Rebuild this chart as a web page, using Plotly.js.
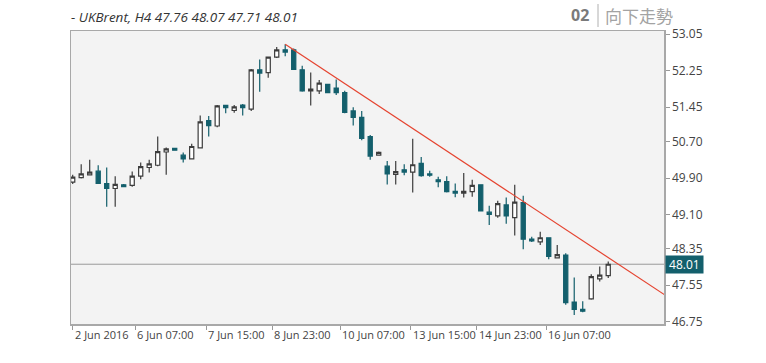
<!DOCTYPE html>
<html><head><meta charset="utf-8">
<script src="https://cdn.plot.ly/plotly-3.0.1.min.js"></script>
<style>html,body{margin:0;padding:0;background:#fff;}#chart{width:766px;height:363px;}</style>
</head><body><div id="chart"></div>
<script>
// UKBrent H4 candles
const opens  = [49.81,49.91,49.97,50.05,49.78,49.67,49.75,49.74,49.94,50.13,50.18,50.47,50.55,50.40,50.32,50.56,
                51.16,51.04,51.49,51.38,51.50,51.41,52.27,52.21,52.55,52.71,52.71,52.27,51.81,51.81,51.95,51.87,
                51.77,51.37,51.23,50.81,50.40,50.16,49.98,50.08,50.03,50.22,49.99,49.86,49.82,49.61,49.57,49.60,
                49.75,49.15,49.07,49.31,49.03,49.36,48.56,48.50,48.59,48.15,48.21,47.18,47.02,47.25,47.69,47.76];
const highs  = [49.97,50.20,50.30,50.18,50.13,49.94,49.77,50.04,50.24,50.30,50.81,50.57,50.55,50.46,50.65,51.27,
                51.26,51.50,51.50,51.50,51.52,52.29,52.50,52.56,52.77,52.83,52.74,52.36,52.21,52.05,51.95,52.06,
                51.81,51.45,51.37,50.84,50.48,50.27,50.27,50.20,50.76,50.36,50.06,49.93,49.94,49.78,50.01,49.86,
                49.75,49.29,49.40,49.47,49.75,49.51,48.61,48.72,48.60,48.43,48.25,47.72,47.20,47.79,47.96,48.07];
const lows   = [49.77,49.89,49.97,49.78,49.27,49.27,49.70,49.71,49.87,50.02,50.16,49.97,50.51,50.24,50.31,50.55,
                50.81,51.01,51.32,51.33,51.27,51.37,51.79,52.10,52.53,52.57,52.27,51.79,51.49,51.74,51.77,51.72,
                51.32,51.05,50.73,50.30,50.39,49.76,49.76,49.96,49.58,49.93,49.93,49.70,49.58,49.48,49.47,49.49,
                49.18,48.87,49.03,48.90,48.64,48.34,48.50,48.43,48.12,48.14,47.12,46.90,46.96,47.23,47.63,47.71];
const closes = [49.92,49.99,50.03,49.78,49.67,49.76,49.71,49.94,50.15,50.21,50.48,50.54,50.51,50.32,50.59,51.13,
                51.05,51.48,51.44,51.46,51.44,52.27,52.20,52.55,52.71,52.66,52.28,51.81,51.85,51.98,51.77,51.77,
                51.34,51.23,50.77,50.38,50.46,49.99,50.04,50.03,50.19,49.95,49.96,49.82,49.60,49.57,49.61,49.74,
                49.18,49.10,49.34,49.07,49.37,48.56,48.52,48.59,48.18,48.22,47.17,47.02,46.98,47.74,47.77,48.01];

// trend line through the 8 Jun high (bar index, price)
const trendX = [25, 75];
const trendY = [52.83, 46.68];

const lastPrice = 48.01;
const titleText = '- UKBrent, H4 47.76 48.07 47.71 48.01';
const badgeNum = '02';
const badgeText = '向下走勢';

// x tick positions (bar index) and labels
const xTickPos = [0, 7.35, 15.7, 23.5, 31.45, 39.75, 47.55, 55.7];
const xTickLabels = ['2 Jun 2016','6 Jun 07:00','7 Jun 15:00','8 Jun 23:00','10 Jun 07:00','13 Jun 15:00','14 Jun 23:00','16 Jun 07:00'];

const yTickVals = [53.05, 52.25, 51.45, 50.70, 49.90, 49.10, 48.35, 47.55, 46.75];
const yTickText = ['53.05','52.25','51.45','50.70','49.90','49.10','48.35','47.55','46.75'];

const TEAL = '#135f6c';
const M = {l:71, r:102, t:31, b:39};
const W = 766, H = 363;
const PW = W - M.l - M.r, PH = H - M.t - M.b;
const px = x => (x - M.l) / PW;
const py = y => (H - M.b - y) / PH;

const xIdx = opens.map((_, i) => i);

const candles = {
  type: 'candlestick', x: xIdx, open: opens, high: highs, low: lows, close: closes,
  increasing: {line: {color: '#3c3c3c', width: 1.2}, fillcolor: '#ffffff'},
  decreasing: {line: {color: TEAL, width: 1.2}, fillcolor: TEAL},
  whiskerwidth: 0, hoverinfo: 'skip', showlegend: false
};
const trend = {
  type: 'scatter', mode: 'lines', x: trendX, y: trendY,
  line: {color: '#e5432f', width: 1.2}, hoverinfo: 'skip', showlegend: false
};

const tickFont = {family: 'Open Sans, sans-serif', size: 11, color: '#444'};

const annotations = xTickLabels.map((t, i) => ({
  xref: 'x', yref: 'paper', x: xTickPos[i], y: 0, yshift: -10,
  xanchor: 'left', yanchor: 'middle', text: t, showarrow: false, font: tickFont
}));
annotations.push({
  xref: 'paper', yref: 'y', x: 1, y: lastPrice, xshift: 1, xanchor: 'left', yanchor: 'middle',
  text: '&nbsp;' + lastPrice.toFixed(2) + '&nbsp;', showarrow: false, bgcolor: TEAL, borderpad: 0,
  font: {family: 'Open Sans, sans-serif', size: 12, color: '#ffffff'}
});
annotations.push({
  xref: 'paper', yref: 'paper', x: px(569), y: py(15), xanchor: 'left', yanchor: 'middle',
  text: '<b>' + badgeNum + '</b>', showarrow: false,
  font: {family: 'Open Sans, sans-serif', size: 16, color: '#7a7a7a'}
});
annotations.push({
  xref: 'paper', yref: 'paper', x: px(603), y: py(15), xanchor: 'left', yanchor: 'middle',
  text: badgeText, showarrow: false,
  font: {family: 'Noto Sans CJK TC, sans-serif', size: 17, color: '#a3a3a3'}
});

const layout = {
  width: W, height: H, margin: M,
  paper_bgcolor: '#ffffff', plot_bgcolor: '#f3f3f3', showlegend: false,
  title: {
    text: '<i>' + titleText + '</i>', xref: 'container', yref: 'container',
    x: 71 / W, xanchor: 'left', y: 1 - 17 / H, yanchor: 'middle',
    font: {family: 'Open Sans, sans-serif', size: 13.5, color: '#333'}
  },
  xaxis: {
    type: 'linear', range: [-0.2, 69.56], rangeslider: {visible: false},
    tickvals: xTickPos, showticklabels: false, ticks: 'outside', ticklen: 4, tickcolor: '#999', tickwidth: 1,
    showgrid: false, zeroline: false, showline: true, mirror: true, linecolor: '#a8a8a8', linewidth: 1.5,
    fixedrange: true
  },
  yaxis: {
    side: 'right', range: [46.70, 53.122],
    tickvals: yTickVals, ticktext: yTickText, ticks: 'outside', ticklen: 4, tickcolor: '#999', tickwidth: 1,
    tickfont: {family: 'Open Sans, sans-serif', size: 12, color: '#444'},
    showgrid: false, zeroline: false, showline: true, mirror: true, linecolor: '#a8a8a8', linewidth: 1.5,
    fixedrange: true
  },
  shapes: [
    {type: 'line', xref: 'paper', yref: 'y', x0: 0, x1: 1, y0: lastPrice, y1: lastPrice,
     line: {color: '#999', width: 1}, layer: 'below'},
    {type: 'line', xref: 'paper', yref: 'paper', x0: px(598), x1: px(598), y0: py(4), y1: py(27),
     line: {color: '#b0b0b0', width: 1}}
  ],
  annotations: annotations
};

Plotly.newPlot('chart', [candles, trend], layout, {staticPlot: true, displayModeBar: false});
</script>
</body></html>
